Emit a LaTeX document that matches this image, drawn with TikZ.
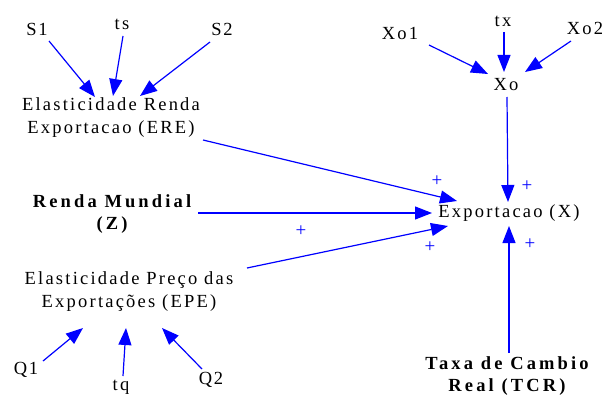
\documentclass[tikz,border=0pt]{standalone}
\usepackage{fontspec}
\setmainfont{Liberation Serif}[LetterSpace=12, BoldFeatures={LetterSpace=17}]
\usetikzlibrary{arrows.meta,calc}
\definecolor{linkblue}{RGB}{0,0,255}
\tikzset{
  lbl/.style={inner sep=0pt, font=\fontsize{18.5}{23}\selectfont, align=center, text=black},
  blbl/.style={lbl, font=\fontsize{18.5}{22}\selectfont\bfseries},
  arr/.style={draw=linkblue, line width=1.2pt, -{Triangle[length=17pt,width=13pt]}},
  sign/.style={inner sep=0pt, text=linkblue, font=\fontsize{19}{19}\selectfont}
}
\begin{document}
\begin{tikzpicture}[x=1pt,y=-1pt]
\useasboundingbox (0,0) rectangle (605,396);

% variables
\node[lbl] (S1)  at (37,29)  {S\kern1.5pt 1};
\node[lbl] (ts)  at (122,24) {ts};
\node[lbl] (S2)  at (222,29) {S\kern1.5pt 2};
\node[lbl] (ERE) at (111,118) {Elasticidade Renda\\Exportacao (ERE)};
\node[blbl] (RM) at (112,214) {Renda M\kern3pt undial\\(Z)};
\node[lbl] (EPE) at (129,292) {Elasticidade Preço das\\Exportações (EPE)};
\node[lbl] (Q1)  at (26,370) {Q\kern1.5pt 1};
\node[lbl] (tq)  at (121,387) {tq};
\node[lbl] (Q2)  at (211,380) {Q\kern1.5pt 2};
\node[lbl] (Xo1) at (400,33) {Xo1};
\node[lbl] (tx)  at (503,21) {tx};
\node[lbl] (Xo2) at (585,28) {Xo2};
\node[lbl] (Xo)  at (506,85) {Xo};
\node[lbl] (X)   at (509,213) {Exportacao (X)};
\node[blbl] (TCR) at (507,376) {Taxa de Cambio\\Real (TCR)};

% links into ERE
\draw[arr] ($(S1)+(12,12)$) -- ($(ERE)+(-16,-21)$);
\draw[arr] ($(ts)+(1,12)$)  -- ($(ERE)+(2,-22)$);
\draw[arr] ($(S2)+(-12,13)$) -- ($(ERE)+(29,-22)$);

% links into EPE
\draw[arr] ($(Q1)+(17,-9)$)  -- ($(EPE)+(-46,36)$);
\draw[arr] ($(tq)+(2,-11)$)  -- ($(EPE)+(-3,36)$);
\draw[arr] ($(Q2)+(-9,-11)$) -- ($(EPE)+(33,36)$);

% links into Xo
\draw[arr] ($(Xo1)+(29,12)$)  -- ($(Xo)+(-18,-11)$);
\draw[arr] ($(tx)+(1,11)$)    -- ($(Xo)+(-2,-13)$);
\draw[arr] ($(Xo2)+(-14,13)$) -- ($(Xo)+(19,-13)$);

% links into X
\draw[arr] ($(ERE)+(92,22)$)  -- ($(X)+(-52,-12)$);
\draw[arr] ($(RM)+(86,-1)$)   -- ($(X)+(-77,0)$);
\draw[arr] ($(EPE)+(118,-24)$) -- ($(X)+(-61,13)$);
\draw[arr] ($(Xo)+(1,12)$)    -- ($(X)+(-1,-11)$);
\draw[arr] ($(TCR)+(2,-23)$)  -- ($(X)+(0,13)$);

% polarities
\node[sign] (p1) at (437,181) {+};
\node[sign] (p2) at (527,186) {+};
\node[sign] (p3) at (301,231) {+};
\node[sign] (p4) at (430,247) {+};
\node[sign] (p5) at (530,244) {+};
\end{tikzpicture}
\end{document}
